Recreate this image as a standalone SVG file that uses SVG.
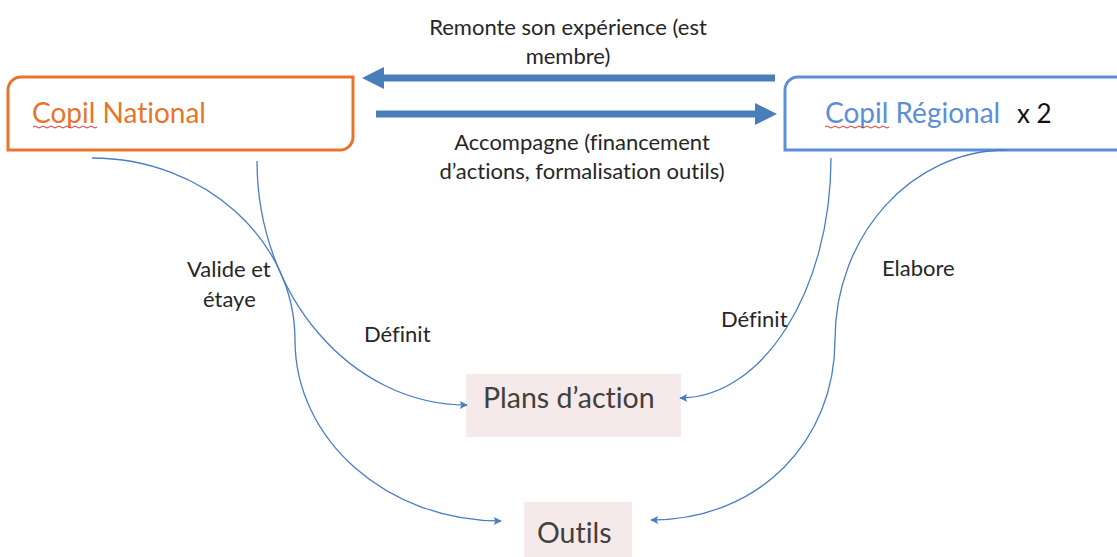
<svg xmlns="http://www.w3.org/2000/svg" width="1117" height="557" viewBox="0 0 1117 557">
<style>
.lbl{font-family:Lato,"Liberation Sans",sans-serif;font-size:22px;fill:#262626;font-variant-ligatures:none}
.title{font-family:Lato,"Liberation Sans",sans-serif;font-size:28px;font-variant-ligatures:none}
.pink{fill:#F6E9E9}
.conn{fill:none;stroke:#4A7EC4;stroke-width:1.3;marker-end:url(#ah)}
.thick{fill:none;stroke:#4A7EBB;stroke-width:7}
.squig{fill:none;stroke:#E03030;stroke-width:1}
</style>
<defs>
<marker id="ah" viewBox="0 0 10 10" refX="9" refY="5" markerWidth="10" markerHeight="8" markerUnits="userSpaceOnUse" orient="auto">
<path d="M0,0 L10,5 L0,10 L2,5 Z" fill="#4A7EC4"/>
</marker>
</defs>
<rect width="1117" height="557" fill="#ffffff"/>

<g id="copil-national">
<path d="M8,90 A13,13 0 0 1 21,77 L353,77 L353,137 A13,13 0 0 1 340,150 L8,150 Z" fill="#ffffff" stroke="#E8742A" stroke-width="3"/>
<text x="32" y="123" class="title" fill="#E8742A">Copil National</text>
<path class="squig" d="M33,127 q2,-2 4,0 t4,0 t4,0 t4,0 t4,0 t4,0 t4,0 t4,0 t4,0 t4,0 t4,0 t4,0 t4,0 t4,0 t4,0 t4,0"/>
</g>

<g id="copil-regional">
<path d="M785,90 A13,13 0 0 1 798,77 L1125,77 L1125,150 L785,150 Z" fill="#ffffff" stroke="#5B8FD6" stroke-width="3"/>
<text x="825" y="123" class="title" fill="#5B8FD6">Copil Régional</text>
<text x="1017" y="123" class="title" fill="#111111" style="font-size:26px">x 2</text>
<path class="squig" d="M825,127 q2,-2 4,0 t4,0 t4,0 t4,0 t4,0 t4,0 t4,0 t4,0 t4,0 t4,0 t4,0 t4,0 t4,0 t4,0 t4,0 t4,0"/>
</g>

<g id="plans-action">
<rect class="pink" x="466" y="374" width="215" height="63"/>
<text x="483" y="408" class="title" fill="#404040" style="font-size:28.5px">Plans d’action</text>
</g>

<g id="outils">
<rect class="pink" x="524" y="502" width="108" height="60"/>
<text x="537" y="543" class="title" fill="#404040" style="font-size:28.5px">Outils</text>
</g>

<g id="connectors">
<path class="thick" d="M775,78 L380,78"/>
<path d="M362,78 L384,67 L384,89 Z" fill="#4A7EBB"/>
<path class="thick" d="M376,114 L758,114"/>
<path d="M777,114 L755,103 L755,125 Z" fill="#4A7EBB"/>

<path class="conn" d="M92,158 C204,158 295,240 295,340 C295,440 387,521 501,521"/>
<path class="conn" d="M257,161 C257,295 351,405 467,405"/>
<path class="conn" d="M831,158 C831,290 763,398 680,398"/>
<path class="conn" d="M1007,150 C912,150 835,235 835,340 C835,440 760,520 651,520"/>
</g>

<g id="labels">
<text class="lbl" x="568" y="35" text-anchor="middle">Remonte son expérience (est</text>
<text class="lbl" x="568" y="64" text-anchor="middle">membre)</text>
<text class="lbl" x="582" y="150" text-anchor="middle">Accompagne (financement</text>
<text class="lbl" x="582" y="179" text-anchor="middle">d’actions, formalisation outils)</text>
<text class="lbl" x="187" y="277">Valide et</text>
<text class="lbl" x="203" y="307">étaye</text>
<text class="lbl" x="364" y="342">Définit</text>
<text class="lbl" x="721" y="327">Définit</text>
<text class="lbl" x="882" y="276">Elabore</text>
</g>
</svg>
